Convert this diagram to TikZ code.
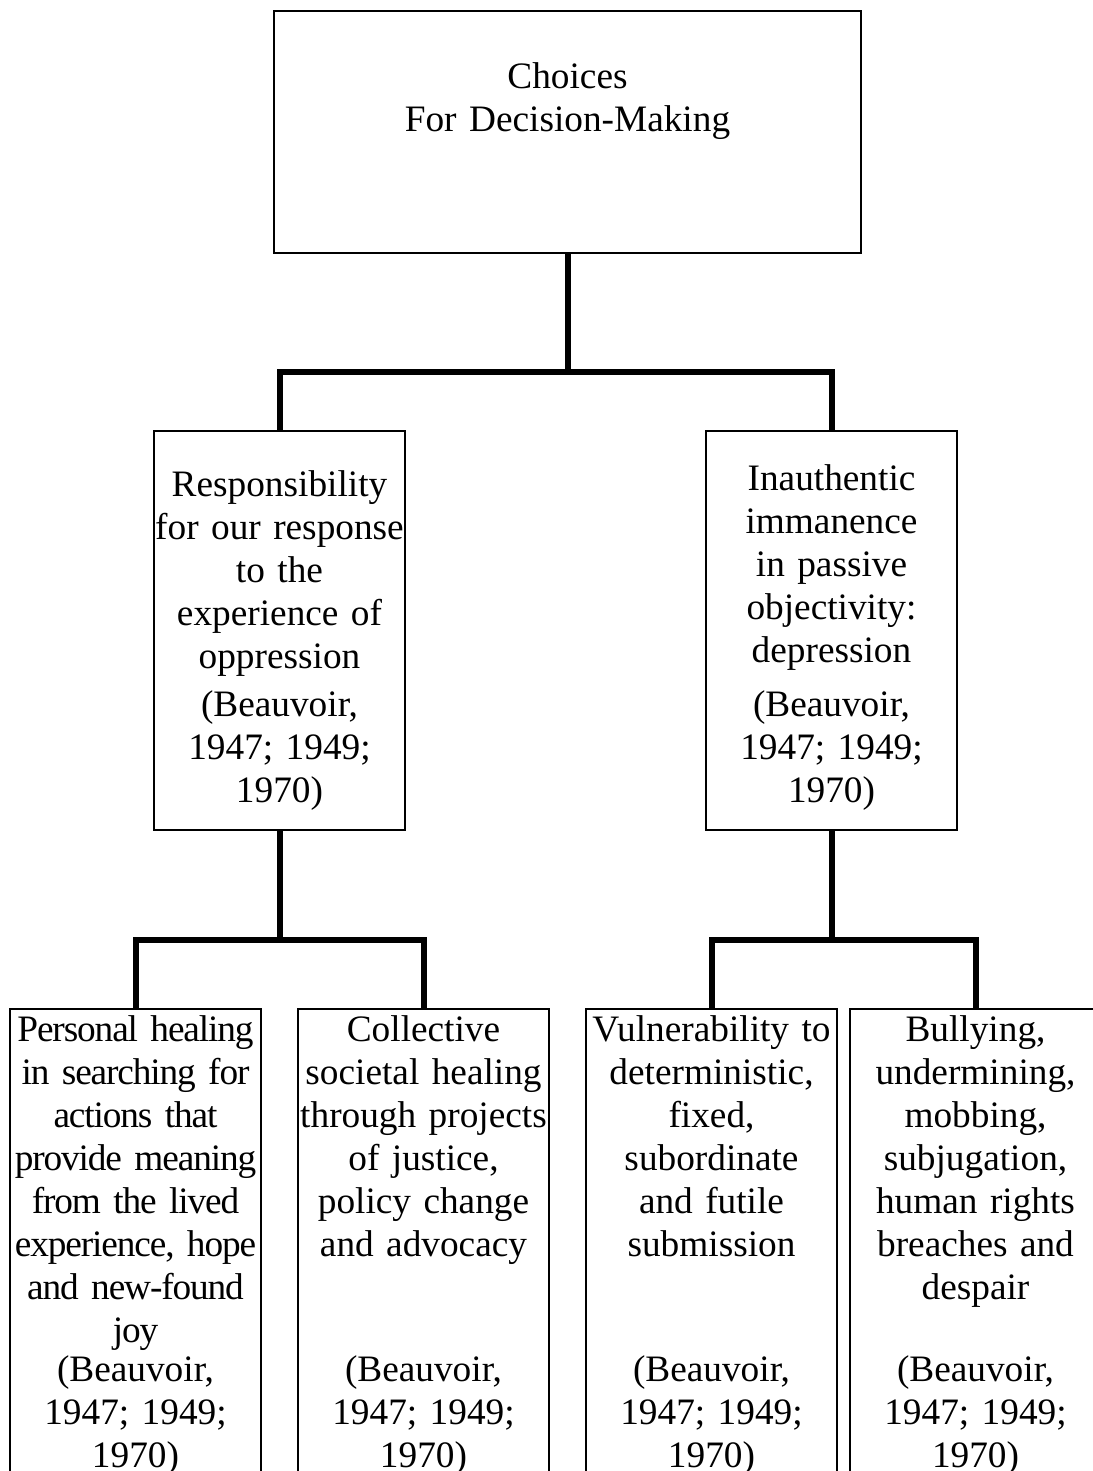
\documentclass[tikz,border=0pt]{standalone}
\usepackage{fontspec}
\setmainfont{Liberation Serif}

\newcommand{\beauvoir}{(Beauvoir,\\1947; 1949;\\1970)}

\begin{document}
\begin{tikzpicture}[x=1pt, y=-1pt]
\tikzstyle{choice} = [rectangle, draw=black, line width=1.8pt, anchor=north, inner xsep=-24.5pt, inner ysep=0pt, text width=300pt, align=center, font=\fontsize{37.3}{43}\selectfont]
\tikzstyle{link} = [line width=6pt, draw=black]

\useasboundingbox (0,0) rectangle (1092,1471);

\node (top) [choice, text width=636pt, text height=78pt, text depth=164pt] at (567.5,10) {Choices\\For Decision-Making};
\node (resp) [choice, text height=66pt, text depth=333pt] at (279.5,430) {Responsibility\\for our response\\to the\\experience of\\oppression\\[5pt]\beauvoir};
\node (inauth) [choice, text height=60pt, text depth=339pt] at (831.5,430) {Inauthentic\\immanence\\in passive\\objectivity:\\depression\\[11pt]\beauvoir};
\node (heal) [choice, text height=33pt, text depth=450pt] at (135.5,1008) {{\addfontfeature{LetterSpace=-3}Personal healing\\in searching for\\actions that\\provide meaning\\from the lived\\experience, hope\\and new-found\\joy}\\[-4pt]\beauvoir};
\node (coll) [choice, text height=33pt, text depth=450pt] at (423.5,1008) {Collective\\societal healing\\through projects\\of justice,\\policy change\\and advocacy\\[82pt]\beauvoir};
\node (vuln) [choice, text height=33pt, text depth=450pt] at (711.5,1008) {Vulnerability to\\deterministic,\\fixed,\\subordinate\\and futile\\submission\\[82pt]\beauvoir};
\node (bully) [choice, text height=33pt, text depth=450pt] at (975.5,1008) {Bullying,\\undermining,\\mobbing,\\subjugation,\\human rights\\breaches and\\despair\\[39pt]\beauvoir};

\coordinate (j1) at (567.5,372);
\coordinate (j2) at (279.5,940);
\coordinate (j3) at (831.5,940);

\draw [link] (top.south) -- (j1);
\draw [link] (resp.north) |- (j1) -| (inauth.north);
\draw [link] (resp.south) -- (j2);
\draw [link] (heal.north) |- (j2) -| (coll.north);
\draw [link] (inauth.south) -- (j3);
\draw [link] (vuln.north) |- (j3) -| (bully.north);
\end{tikzpicture}
\end{document}
